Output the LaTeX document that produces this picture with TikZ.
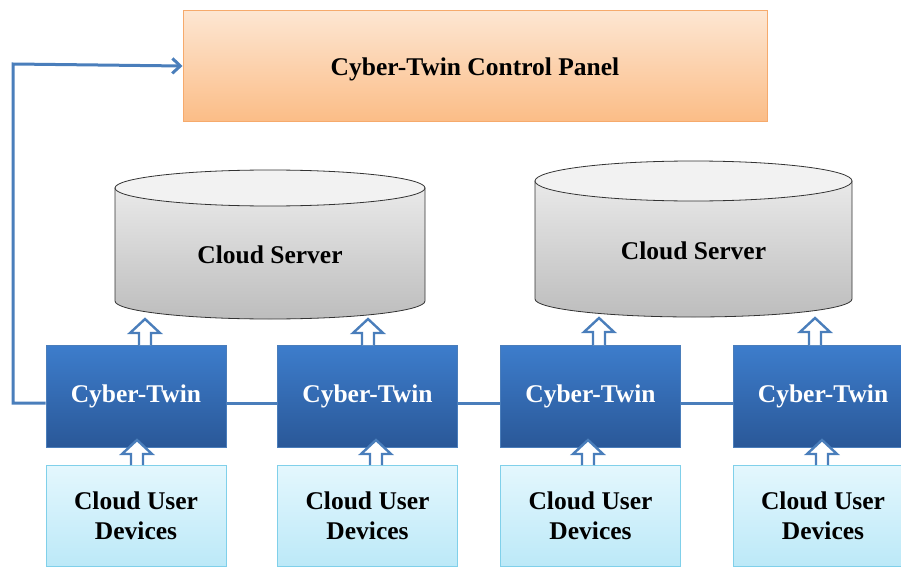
\documentclass[tikz,border=0pt]{standalone}
\usepackage{fontspec}
\setmainfont{Liberation Serif}
\usetikzlibrary{arrows.meta,calc}
\definecolor{panelTop}{HTML}{FDE6D2}
\definecolor{panelBot}{HTML}{FBBD87}
\definecolor{panelBd}{HTML}{F6AA6C}
\definecolor{ctTop}{HTML}{3D7DCC}
\definecolor{ctBot}{HTML}{2A5898}
\definecolor{ctBd}{HTML}{4A7DBA}
\definecolor{cudTop}{HTML}{E4F7FD}
\definecolor{cudBot}{HTML}{BCE9F8}
\definecolor{cudBd}{HTML}{80D0EA}
\definecolor{lineBlue}{HTML}{4A7EBB}
\definecolor{cylTop}{HTML}{F2F2F2}
\definecolor{cylBodyTop}{HTML}{E9E9E9}
\definecolor{cylBodyBot}{HTML}{BDBDBD}
\tikzset{
  txt/.style={font=\fontsize{25.5}{30}\selectfont\bfseries, align=center},
  panelbox/.style={draw=panelBd, line width=1pt, top color=panelTop, bottom color=panelBot, minimum width=584pt, minimum height=110pt, inner sep=0pt},
  ctbox/.style={txt, text=white, draw=ctBd, line width=1pt, top color=ctTop, bottom color=ctBot, minimum width=180pt, minimum height=102pt, inner sep=0pt},
  cudbox/.style={txt, draw=cudBd, line width=1pt, top color=cudTop, bottom color=cudBot, minimum width=180pt, minimum height=101pt, inner sep=0pt},
  link/.style={draw=lineBlue, line width=3pt},
  harrowstyle/.style={draw=lineBlue, line width=2.4pt, fill=white, line join=miter},
  cylbody/.style={draw=black!80, line width=0.8pt, top color=cylBodyTop, bottom color=cylBodyBot},
  cyltop/.style={draw=black!80, line width=0.8pt, fill=cylTop},
}
\newcommand\harrow[3]{%
  \draw[harrowstyle] ({#1-6},#2) -- ({#1-6},{#3+14}) -- ({#1-15},{#3+14}) -- (#1,#3) -- ({#1+15},{#3+14}) -- ({#1+6},{#3+14}) -- ({#1+6},#2);}
\newcommand\cyl[5]{% cx, rx, ytop, ryt, ybot
  \path[cylbody] ({#1-#2},#3) -- ({#1-#2},#5) arc[start angle=180, end angle=0, x radius=#2, y radius=18] -- ({#1+#2},#3) -- cycle;
  \path[cyltop] (#1,#3) ellipse [x radius=#2, y radius=#4];
}
\newcommand\ctlabel{\raisebox{-3pt}{Cyber-Twin}}
\begin{document}
\begin{tikzpicture}[x=1pt,y=-1pt]
\useasboundingbox (0,0) rectangle (901,567);
\clip (0,0) rectangle (901,567);
% control panel
\node[panelbox] (cp) at (475,66) {};
\node[txt] (cpt) at (475,69) {Cyber-Twin Control Panel};
% cylinders
\cyl{270}{155}{188}{18}{301}
\node[txt] (s1) at (270,255) {Cloud Server};
\cyl{693.5}{158.5}{181}{20}{299}
\node[txt] (s2) at (693.5,251) {Cloud Server};
% cyber-twins
\node[ctbox] (ct1) at (136,396) {\ctlabel};
\node[ctbox] (ct2) at (367.5,396) {\ctlabel};
\node[ctbox] (ct3) at (590.5,396) {\ctlabel};
\node[ctbox] (ct4) at (823,396) {\ctlabel};
% devices
\node[cudbox] (d1) at (136,515.5) {Cloud User\\Devices};
\node[cudbox] (d2) at (367.5,515.5) {Cloud User\\Devices};
\node[cudbox] (d3) at (590.5,515.5) {Cloud User\\Devices};
\node[cudbox] (d4) at (823,515.5) {Cloud User\\Devices};
% links
\draw[link] ([yshift=-7pt]ct1.east) -- ([yshift=-7pt]ct2.west);
\draw[link] ([yshift=-7pt]ct2.east) -- ([yshift=-7pt]ct3.west);
\draw[link] ([yshift=-7pt]ct3.east) -- ([yshift=-7pt]ct4.west);
\coordinate (lft) at (13,64);
\draw[link, -{Straight Barb[length=8pt,width=15pt,line width=3pt]}] ([yshift=-7pt]ct1.west) -- ([yshift=-7pt]ct1.west -| lft) -- (lft) -- (cp.west);
% hollow arrows up to servers
\harrow{145}{345}{319}
\harrow{368}{345}{319}
\harrow{599}{345}{318}
\harrow{815}{345}{318}
% hollow arrows from devices
\harrow{137}{465}{440}
\harrow{376}{465}{440}
\harrow{588}{465}{440}
\harrow{822}{465}{440}
\end{tikzpicture}
\end{document}
